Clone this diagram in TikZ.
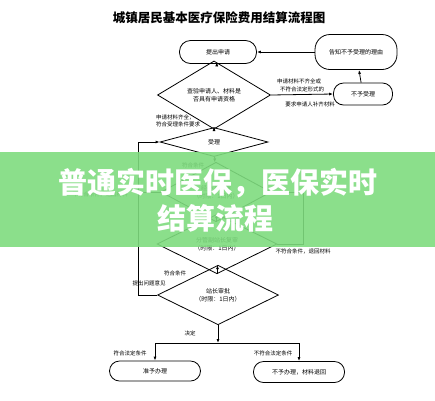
\documentclass[tikz,border=0pt]{standalone}
\usepackage{fontspec}
\setmainfont{Noto Sans CJK SC}
\usepackage{tikz}
\usetikzlibrary{shapes.geometric}
\usetikzlibrary{arrows.meta}
\definecolor{bannergreen}{RGB}{126,219,126}

\begin{document}
\begin{tikzpicture}[
            x=1pt, y=-1pt,
            >={Latex[length=4pt,width=3pt]},
            flow box/.style={draw, line width=0.8pt, rounded corners=9pt, inner sep=1pt, font=\fontsize{6}{7}\selectfont},
            check node/.style={diamond, draw, line width=0.8pt, inner sep=0pt, align=center, font=\fontsize{6}{8.5}\selectfont},
            note/.style={inner sep=0pt, align=left, font=\fontsize{5.5}{7}\selectfont},
            link/.style={line width=0.8pt},
            banner text/.style={text=white, font=\fontsize{29}{34}\bfseries\selectfont},
            ]
            \useasboundingbox (0,0) rectangle (435,400);
            
            \node[font=\fontsize{12.5}{14}\bfseries\selectfont] (title) at (219,18) {城镇居民基本医疗保险费用结算流程图};
            
            \node[flow box, minimum width=77pt, minimum height=23pt, rounded corners=11pt] (apply) at (218,52) {提出申请};
            \node[flow box, minimum width=82pt, minimum height=35pt, rounded corners=15pt] (notify) at (356,52) {告知不予受理的理由};
            \node[flow box, minimum width=59pt, minimum height=22pt, rounded corners=10pt] (reject) at (363,94) {不予受理};
            \node[check node, minimum width=113pt, minimum height=46pt] (check) at (214,95) {查验申请人、材料是\\否具有申请资格};
            \node[check node, minimum width=108pt, minimum height=29pt] (accept) at (214,142) {受理};
            \node[check node, minimum width=110pt, minimum height=40pt] (first) at (216,192) {经办人初审\\（时限：1日内）};
            \node[check node, minimum width=120pt, minimum height=44pt] (second) at (217,244) {分管副站长复审\\（时限：1日内）};
            \node[check node, minimum width=121pt, minimum height=41pt] (final) at (218,295) {站长审批\\（时限：1日内）};
            \node[flow box, minimum width=91pt, minimum height=20pt, rounded corners=10pt] (grant) at (155,371) {准予办理};
            \node[flow box, minimum width=91pt, minimum height=21pt, rounded corners=10pt] (deny) at (299,372) {不予办理，材料退回};
            
            \coordinate (loop) at (138,0);
            \coordinate (back) at (303,0);
            \coordinate (split) at (218,343);
            
            \draw[link, ->] (notify) -- (apply);
            \draw[link, ->] (apply) -- (check);
            \draw[link, ->] (check.east) -- (reject.west);
            \draw[link, ->] (reject) -- (notify);
            \draw[link, ->] (check) -- (accept);
            \draw[link, ->] (accept) -- (first);
            \draw[link, ->] (first) -- (second);
            \draw[link] (first.east) -- (first.east -| back) -- (second.east -| back) -- (second.east);
            \draw[link, ->] (second) -- (final);
            \draw[link, ->] (final.west) -- (final.west -| loop) -- (accept.west -| loop) -- (accept.west);
            \draw[link] (first.west) -- (first.west -| loop);
            \draw[link, ->] (final) -- (split);
            \draw[link] (grant.north |- split) -- (deny.north |- split);
            \draw[link, ->] (grant.north |- split) -- (grant.north);
            \draw[link, ->] (deny.north |- split) -- (deny.north);
            
            \node[note] (n1) at (299,81) {申请材料不齐全或};
            \node[note] (n2) at (302,89) {不符合法定形式的};
            \node[note] (n3) at (310,104) {要求申请人补齐材料};
            \node[note] (n4) at (178,121) {申请材料齐全，\\符合受理条件要求};
            \node[note] (n5) at (193,165) {符合条件};
            \node[note] (n6) at (100,194) {不符合条件，退回材料};
            \node[note] (n7) at (303,251) {不符合条件，退回材料};
            \node[note] (n8) at (175,273) {符合条件};
            \node[note] (n9) at (149,283) {提出问题意见};
            \node[note] (n10) at (190,333) {决定};
            \node[note] (n11) at (130,353) {符合法定条件};
            \node[note] (n12) at (273,353) {不符合法定条件};
            
            % overlay banner
            \fill[bannergreen, fill opacity=0.9] (0,152) rectangle (435,247);
            \node[banner text] (head1) at (218,183) {普通实时医保，医保实时};
            \node[banner text] (head2) at (215,218) {结算流程};
        \end{tikzpicture}
\end{document}
